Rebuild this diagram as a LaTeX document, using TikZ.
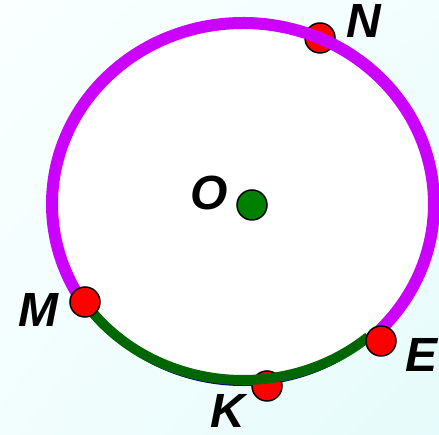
\documentclass[tikz,border=0pt]{standalone}
\usepackage{fontspec}
\setmainfont{Liberation Sans}
\usetikzlibrary{positioning,shadings}
\definecolor{bgtop}{RGB}{250,255,255}
\definecolor{bgbot}{RGB}{230,251,251}
\definecolor{navy}{RGB}{0,0,128}
\definecolor{violetarc}{RGB}{204,0,255}
\definecolor{forest}{RGB}{0,102,0}
\definecolor{centregreen}{RGB}{0,128,0}
\newcommand{\rim}{(243,231) ellipse (191pt and 181pt)}

\begin{document}
\begin{tikzpicture}[x=1pt,y=1pt,
    dot/.style={circle,draw=black,line width=1.5pt,fill=red,minimum size=30pt,inner sep=0pt},
    lbl/.style={inner sep=0pt,font=\fontsize{48}{50}\selectfont\bfseries\itshape}]
        \useasboundingbox (0,0) rectangle (439,435);
        \shade[upper left=bgtop,upper right=bgtop!60!bgbot,lower left=bgtop!60!bgbot,lower right=bgbot] (0,0) rectangle (439,435);
        \fill[white] \rim; \draw[navy,line width=2pt] \rim;
        % points lying under the arcs
        \node[dot] (N) at (320,397) {};
        \node[dot] (K) at (267,49) {};
        \draw[forest,line width=10pt] (243,231) ++(216:191pt and 176pt)
            arc[start angle=216,end angle=311,x radius=191pt,y radius=176pt];
        \draw[violetarc,line width=12pt] (243,231) ++(-44:191pt and 181pt)
            arc[start angle=-44,end angle=211,x radius=191pt,y radius=181pt];
        \node[dot] (M) at (85,133) {};
        \node[dot] (E) at (381,94) {};
        \node[dot,fill=centregreen] (O) at (252,230) {};
        % letters
        \node[lbl] (labN) at (364,414) {N};
        \node[lbl] (labO) at (209,242) {O};
        \node[lbl] (labM) at (38,125) {M};
        \node[lbl] (labE) at (422,80) {E};
        \node[lbl] (labK) at (228,24) {K};
      \end{tikzpicture}
\end{document}
